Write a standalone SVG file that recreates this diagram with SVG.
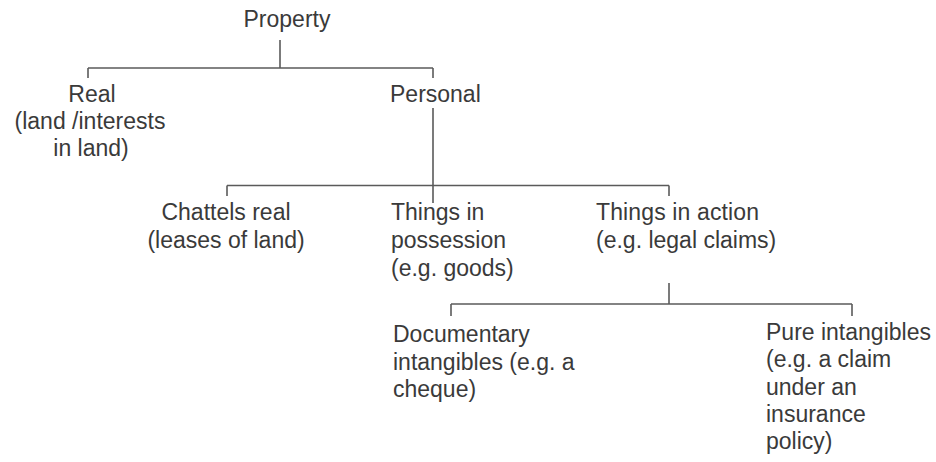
<svg xmlns="http://www.w3.org/2000/svg" width="936" height="462" viewBox="0 0 936 462">
<style>
text { font-family: "Liberation Sans", Arial, sans-serif; font-size: 23px; fill: #3a3a3a; }
.c { text-anchor: middle; }
.conn line { stroke: #5a5a5a; stroke-width: 1.6; fill: none; }
</style>
<rect width="936" height="462" fill="#ffffff"/>
<g id="connectors" class="conn">
  <line x1="280" y1="40" x2="280" y2="68"/>
  <line x1="88" y1="68" x2="433" y2="68"/>
  <line x1="88" y1="68" x2="88" y2="78"/>
  <line x1="433" y1="68" x2="433" y2="78"/>
  <line x1="433" y1="108" x2="433" y2="203"/>
  <line x1="227" y1="185.5" x2="669" y2="185.5"/>
  <line x1="227" y1="185.5" x2="227" y2="196"/>
  <line x1="669" y1="185.5" x2="669" y2="196"/>
  <line x1="669" y1="283" x2="669" y2="304"/>
  <line x1="451" y1="304" x2="852" y2="304"/>
  <line x1="451" y1="304" x2="451" y2="316"/>
  <line x1="852" y1="304" x2="852" y2="316"/>
</g>
<g id="property"><text class="c" x="287" y="27">Property</text></g>
<g id="real">
  <text class="c" x="92" y="102">Real</text>
  <text class="c" x="90" y="129">(land /interests</text>
  <text class="c" x="91" y="156">in land)</text>
</g>
<g id="personal"><text x="390" y="102">Personal</text></g>
<g id="chattels-real">
  <text class="c" x="226" y="220">Chattels real</text>
  <text class="c" x="226" y="248">(leases of land)</text>
</g>
<g id="things-in-possession">
  <text x="391" y="220">Things in</text>
  <text x="391" y="248">possession</text>
  <text x="391" y="276">(e.g. goods)</text>
</g>
<g id="things-in-action">
  <text x="596" y="220" textLength="163">Things in action</text>
  <text x="596" y="248">(e.g. legal claims)</text>
</g>
<g id="documentary-intangibles">
  <text x="393" y="342">Documentary</text>
  <text x="393" y="370">intangibles (e.g. a</text>
  <text x="393" y="397">cheque)</text>
</g>
<g id="pure-intangibles">
  <text x="766" y="340">Pure intangibles</text>
  <text x="766" y="367">(e.g. a claim</text>
  <text x="766" y="395">under an</text>
  <text x="766" y="422">insurance</text>
  <text x="766" y="449">policy)</text>
</g>
</svg>
